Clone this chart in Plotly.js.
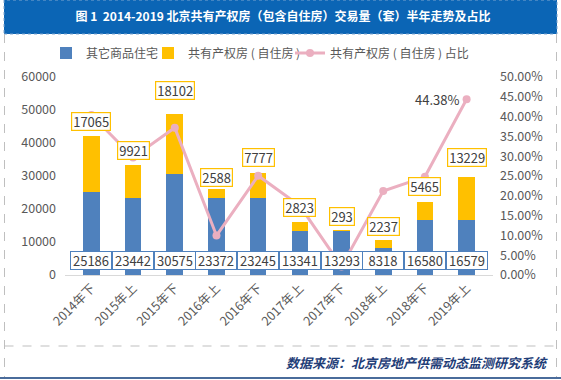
<!DOCTYPE html>
<html><head><meta charset="utf-8">
<script src="https://cdn.plot.ly/plotly-3.0.1.min.js"></script>
<style>html,body{margin:0;padding:0;background:#fff}#c{width:561px;height:380px}</style>
</head><body><div id="c"></div><script>
const categories = ['2014年下','2015年上','2015年下','2016年上','2016年下','2017年上','2017年下','2018年上','2018年下','2019年上'];
const otherHomes = [25186, 23442, 30575, 23372, 23245, 13341, 13293, 8318, 16580, 16579];
const sharedHomes = [17065, 9921, 18102, 2588, 7777, 2823, 293, 2237, 5465, 13229];
const sharedRatio = [0.404, 0.297, 0.372, 0.0997, 0.2507, 0.1746, 0.0216, 0.2119, 0.2479, 0.4438];
const ratioLabels = ['', '', '', '', '', '', '', '', '', '44.38%'];
const seriesNames = ['其它商品住宅', '共有产权房 ( 自住房 )', '共有产权房 ( 自住房 ) 占比'];
const titleText = '图 1  2014-2019 北京共有产权房（包含自住房）交易量（套）半年走势及占比';
const sourceText = '数据来源：北京房地产供需动态监测研究系统';

const W = 561, H = 380, ML = 65, MR = 68, MT = 77, MB = 105;
const PW = W - ML - MR, PH = H - MT - MB;
const px = v => (v - ML) / PW;
const py = v => (H - MB - v) / PH;
const FONT = '"Noto Sans CJK SC", "Noto Sans", sans-serif';
const BLUE = '#4F81BD', GOLD = '#FFC000', PINK = '#EBAFC0', TXT = '#404040', TICK = '#595959';

const labelShift = [5, 5, 14, 2, 6, 5, 4, 4, 6, 10];

const traces = [
  {type: 'bar', name: seriesNames[0], x: categories, y: otherHomes, marker: {color: BLUE}, width: 0.4, hoverinfo: 'skip', legend: 'legend'},
  {type: 'bar', name: seriesNames[1], x: categories, y: sharedHomes, marker: {color: GOLD}, width: 0.4, hoverinfo: 'skip', legend: 'legend2'},
  {type: 'scatter', mode: 'lines+markers', name: seriesNames[2], x: categories, y: sharedRatio, yaxis: 'y2',
   line: {color: PINK, width: 3}, marker: {color: PINK, size: 8}, hoverinfo: 'skip', legend: 'legend3'}
];

const annotations = [];
categories.forEach((c, i) => {
  annotations.push({x: c, y: 0, xref: 'x', yref: 'y', yanchor: 'bottom', yshift: 5, text: String(otherHomes[i]),
    showarrow: false, width: 38, height: 15, borderpad: 1, bordercolor: BLUE, borderwidth: 1, bgcolor: '#fff',
    font: {family: FONT, size: 13, color: TXT}});
  annotations.push({x: c, y: otherHomes[i] + sharedHomes[i], xref: 'x', yref: 'y', yanchor: 'bottom', yshift: labelShift[i],
    text: String(sharedHomes[i]), showarrow: false, height: 15, borderpad: 1, bordercolor: GOLD, borderwidth: 1.2, bgcolor: '#fff',
    font: {family: FONT, size: 13, color: TXT}});
  if (ratioLabels[i]) {
    annotations.push({x: c, y: sharedRatio[i], xref: 'x', yref: 'y2', xanchor: 'right', xshift: -6, text: ratioLabels[i],
      showarrow: false, font: {family: FONT, size: 13, color: TXT}});
  }
});
annotations.push({xref: 'paper', yref: 'paper', x: px(550), y: py(362), xanchor: 'right', yanchor: 'middle', showarrow: false,
  text: '<b><i>' + sourceText + '</i></b>', font: {family: FONT, size: 13, color: '#1F3E78'}});

const shapes = [
  {type: 'rect', xref: 'paper', yref: 'paper', x0: px(4), x1: px(557), y0: py(34), y1: py(0), fillcolor: '#0B65B5', line: {width: 1, color: '#7FA6CF', dash: 'dot'}, layer: 'below'},
  {type: 'line', xref: 'paper', yref: 'paper', x0: px(4.5), x1: px(4.5), y0: py(34), y1: py(378), line: {width: 1, color: '#BFBFBF', dash: 'dash'}},
  {type: 'line', xref: 'paper', yref: 'paper', x0: px(556.5), x1: px(556.5), y0: py(34), y1: py(378), line: {width: 1, color: '#BFBFBF', dash: 'dash'}},
  {type: 'line', xref: 'paper', yref: 'paper', x0: px(4.5), x1: px(556.5), y0: py(346), y1: py(346), line: {width: 1, color: '#BFBFBF', dash: 'dash'}},
  {type: 'line', xref: 'paper', yref: 'paper', x0: px(0), x1: px(561), y0: py(378), y1: py(378), line: {width: 2, color: '#4A6C9B'}}
];

const legendBase = {orientation: 'h', xref: 'container', yref: 'container', xanchor: 'left', y: 1 - 53/H, yanchor: 'middle',
  font: {family: FONT, size: 12, color: TICK}, itemwidth: 30, bgcolor: 'rgba(0,0,0,0)', borderwidth: 0};

const layout = {
  width: W, height: H, margin: {l: ML, r: MR, t: MT, b: MB, pad: 0},
  paper_bgcolor: '#fff', plot_bgcolor: '#fff', barmode: 'stack', bargap: 0.6,
  font: {family: FONT, size: 12, color: TICK},
  title: {text: '<b>' + titleText + '</b>', xref: 'container', yref: 'container', x: 283/W, xanchor: 'center', y: 1 - 17/H, yanchor: 'middle',
    font: {family: FONT, size: 12, color: '#fff'}},
  showlegend: true,
  legend: Object.assign({}, legendBase, {x: 46/W}),
  legend2: Object.assign({}, legendBase, {x: 148/W}),
  legend3: Object.assign({}, legendBase, {x: 290/W}),
  xaxis: {type: 'category', showgrid: false, showline: true, linecolor: '#D9D9D9', linewidth: 1, ticks: '',
    tickangle: -45, tickfont: {family: FONT, size: 12.5, color: TICK}, fixedrange: true},
  yaxis: {range: [0, 60000], dtick: 10000, showgrid: false, zeroline: false, showline: false, ticks: '',
    tickformat: 'd', tickfont: {family: FONT, size: 12.5, color: TICK}, ticklabelstandoff: 8},
  yaxis2: {range: [0, 0.5], dtick: 0.05, tickformat: '.2%', overlaying: 'y', side: 'right', showgrid: false, zeroline: false,
    showline: false, ticks: '', tickfont: {family: FONT, size: 12.5, color: TICK}, ticklabelstandoff: 6},
  annotations: annotations, shapes: shapes
};

Plotly.newPlot('c', traces, layout, {staticPlot: true, displayModeBar: false});
</script></body></html>
